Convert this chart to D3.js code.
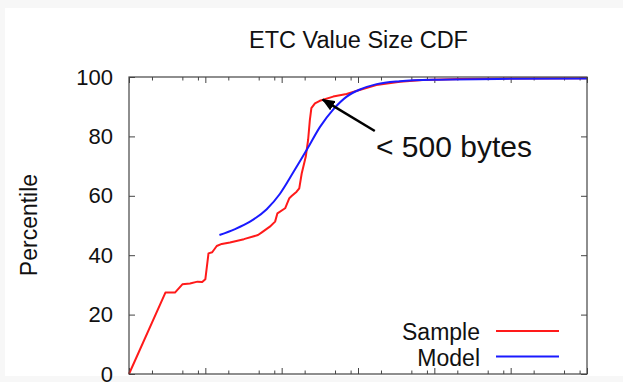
<!doctype html>
<html>
<head>
<meta charset="utf-8">
<script src="https://d3js.org/d3.v7.min.js"></script>
<style>
    body { margin: 0; background: #f7f7f7; }
    text { font-family: "Liberation Sans", Arial, sans-serif; fill: #111; }
</style>
</head>
<body>
<svg id="chart"></svg>
<script>

    // chart data (value size in bytes, percentile)
    var titleText = "ETC Value Size CDF";
    var yLabel = "Percentile";
    var seriesNames = ["Sample", "Model"];
    var seriesColors = ["#ff1a1a", "#1a1aff"];

    var sampleBytes = [1, 3, 4, 5, 6.3, 7.9, 9.1, 10, 11, 12.3, 14.1, 16.4, 21, 32, 49, 55, 70, 82, 88,
        111, 126, 135, 157, 170, 183, 207, 222, 234, 245, 273, 316, 473, 708, 1047, 1738, 3548, 7100,
        21800, 100000, 1000000];
    var samplePct = [0, 27.4, 27.4, 30.2, 30.5, 31.1, 31.0, 31.9, 40.6, 41.0, 43.1, 43.8, 44.3, 45.4, 46.8,
        47.7, 49.6, 51.3, 54.1, 55.8, 59.2, 59.9, 61.4, 62.5, 67.5, 73.2, 78.8, 85.5, 89.5, 91.1, 92.0,
        93.4, 94.3, 95.6, 97.3, 98.4, 99.0, 99.3, 99.5, 99.6];

    var modelBytes = [15.3, 24.5, 38.5, 63.7, 95.1, 142, 218, 318, 475, 711, 1062, 1758, 3550, 9610,
        100000, 1000000];
    var modelPct = [46.8, 48.8, 51.3, 55.5, 60.7, 67.9, 75.9, 83.2, 89.1, 93.4, 95.8, 97.6, 98.6, 99.1,
        99.4, 99.5];

    var yTicks = [0, 20, 40, 60, 80, 100];
    var xMajorTicks = [1, 10, 100, 1000, 10000, 100000, 1000000];
    var xMinorTicks = [2, 5, 8, 20, 50, 80, 200, 500, 800, 2000, 5000, 8000, 20000, 50000, 80000,
        200000, 500000, 800000];

    // annotation: arrow tail / tip and label anchor, in data units
    var noteText = "< 500 bytes";
    var arrowFrom = [1660, 81.8];
    var arrowTo = [345, 92.4];
    var notePos = [1720, 73];

    var W = 623, H = 382;
    var margin = { top: 77, right: 36, bottom: 8, left: 129 };

    var svg = d3.select("#chart")
        .attr("width", W)
        .attr("height", H);

    // white slide area
    svg.append("rect")
        .attr("x", 5).attr("y", 8)
        .attr("width", W - 5).attr("height", 376 - 8)
        .attr("fill", "#fff");

    var x = d3.scaleLog().domain([1, 1000000]).range([margin.left, W - margin.right]);
    var y = d3.scaleLinear().domain([0, 100]).range([H - margin.bottom, margin.top]);

    var axisColor = "#444";

    function styleAxis(g) {
        g.select(".domain").remove();
        g.selectAll(".tick line").attr("stroke", axisColor).attr("stroke-width", 1);
        g.selectAll(".tick text").style("font-size", "22px").attr("fill", "#111")
            .style("font-family", "'Liberation Sans', Arial, sans-serif");
    }

    // bottom and top ticks, pointing inward
    svg.append("g")
        .attr("transform", "translate(0," + y(0) + ")")
        .call(d3.axisBottom(x).tickValues(xMajorTicks).tickSize(-6).tickFormat(""))
        .call(styleAxis);
    svg.append("g")
        .attr("transform", "translate(0," + y(0) + ")")
        .call(d3.axisBottom(x).tickValues(xMinorTicks).tickSize(-3.5).tickFormat(""))
        .call(styleAxis);
    svg.append("g")
        .attr("transform", "translate(0," + y(100) + ")")
        .call(d3.axisTop(x).tickValues(xMajorTicks).tickSize(-6).tickFormat(""))
        .call(styleAxis);
    svg.append("g")
        .attr("transform", "translate(0," + y(100) + ")")
        .call(d3.axisTop(x).tickValues(xMinorTicks).tickSize(-3.5).tickFormat(""))
        .call(styleAxis);

    // left (labelled) and right ticks
    svg.append("g")
        .attr("transform", "translate(" + x(1) + ",0)")
        .call(d3.axisLeft(y).tickValues(yTicks).tickSize(-6).tickPadding(16))
        .call(styleAxis);
    svg.append("g")
        .attr("transform", "translate(" + x(1000000) + ",0)")
        .call(d3.axisRight(y).tickValues(yTicks).tickSize(-6).tickFormat(""))
        .call(styleAxis);

    var sampleLine = d3.line()
        .x(function (d) { return x(d[0]); })
        .y(function (d) { return y(d[1]); });

    var modelLine = d3.line()
        .x(function (d) { return x(d[0]); })
        .y(function (d) { return y(d[1]); })
        .curve(d3.curveMonotoneX);

    var sample = sampleBytes.map(function (b, i) { return [b, samplePct[i]]; });
    var model = modelBytes.map(function (b, i) { return [b, modelPct[i]]; });

    svg.append("path")
        .datum(sample)
        .attr("d", sampleLine)
        .attr("fill", "none")
        .attr("stroke", seriesColors[0])
        .attr("stroke-width", 2)
        .attr("stroke-linejoin", "round");

    svg.append("path")
        .datum(model)
        .attr("d", modelLine)
        .attr("fill", "none")
        .attr("stroke", seriesColors[1])
        .attr("stroke-width", 2);

    // frame
    svg.append("rect")
        .attr("x", x(1)).attr("y", y(100))
        .attr("width", x(1000000) - x(1))
        .attr("height", y(0) - y(100))
        .attr("fill", "none")
        .attr("stroke", axisColor)
        .attr("stroke-width", 1.2);

    // title and y label
    svg.append("text")
        .attr("x", 358.5).attr("y", 47.5)
        .attr("text-anchor", "middle")
        .style("font-size", "23.5px")
        .text(titleText);

    svg.append("text")
        .attr("transform", "translate(37," + 225 + ") rotate(-90)")
        .attr("text-anchor", "middle")
        .style("font-size", "23px")
        .text(yLabel);

    // arrow annotation
    svg.append("defs").append("marker")
        .attr("id", "head")
        .attr("viewBox", "0 0 12 10")
        .attr("refX", 11).attr("refY", 5)
        .attr("markerWidth", 13).attr("markerHeight", 11)
        .attr("markerUnits", "userSpaceOnUse")
        .attr("orient", "auto")
        .append("path")
        .attr("d", "M0,0 L12,5 L0,10 Z")
        .attr("fill", "#000");

    svg.append("line")
        .attr("x1", x(arrowFrom[0])).attr("y1", y(arrowFrom[1]))
        .attr("x2", x(arrowTo[0])).attr("y2", y(arrowTo[1]))
        .attr("stroke", "#000")
        .attr("stroke-width", 2.5)
        .attr("marker-end", "url(#head)");

    svg.append("text")
        .attr("x", x(notePos[0])).attr("y", y(notePos[1]))
        .style("font-size", "30px")
        .text(noteText);

    // legend
    var legend = svg.append("g");
    seriesNames.forEach(function (name, i) {
        var ly = 331 + i * 25.5;
        legend.append("text")
            .attr("x", 480).attr("y", ly + 9)
            .attr("text-anchor", "end")
            .style("font-size", "23px")
            .text(name);
        legend.append("line")
            .attr("x1", 496).attr("x2", 559)
            .attr("y1", ly).attr("y2", ly)
            .attr("stroke", seriesColors[i])
            .attr("stroke-width", 2);
    });

</script>
</body>
</html>
